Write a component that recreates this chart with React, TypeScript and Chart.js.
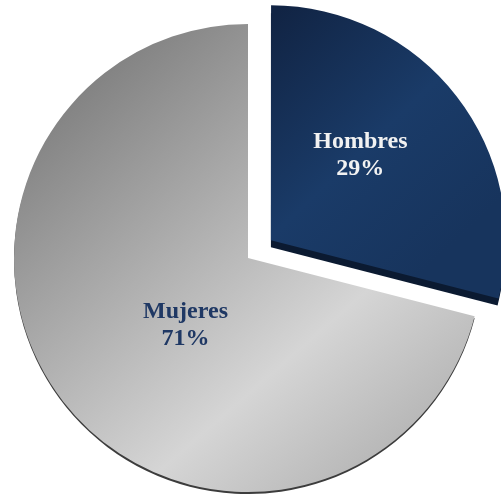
import React, { useEffect, useRef } from "react";
import { Chart, registerables } from "chart.js";

Chart.register(...registerables);

const categories = ["Hombres", "Mujeres"];
const values = [29, 71];
const percentLabels = ["29%", "71%"];

const W = 501;
const H = 494;
const RADIUS = 234;
const OFFSETS = [116, 0];
const DEPTHS = [7, 2];
const DEPTH_COLORS = ["#0b1a31", "#3c3c3c"];
const TEXT_COLORS = ["#f2f2f2", "#1f3864"];
const NUDGES = [
  [-3, -21],
  [30, -12],
];

function arcGeom(arc: any) {
  const p = arc.getProps(["x", "y", "startAngle", "endAngle", "outerRadius"], true);
  const off = (arc.options.offset || 0) / 4;
  const mid = (p.startAngle + p.endAngle) / 2;
  return {
    cx: p.x + Math.cos(mid) * off,
    cy: p.y + Math.sin(mid) * off,
    r: p.outerRadius,
    start: p.startAngle,
    end: p.endAngle,
    mid,
  };
}

const depthPlugin = {
  id: "depth",
  beforeDatasetsDraw(chart: any) {
    const ctx = chart.ctx;
    const meta = chart.getDatasetMeta(0);
    meta.data.forEach((arc: any, i: number) => {
      const g = arcGeom(arc);
      const cy = g.cy + DEPTHS[i];
      ctx.save();
      ctx.beginPath();
      ctx.moveTo(g.cx, cy);
      ctx.arc(g.cx, cy, g.r, g.start, g.end);
      ctx.closePath();
      ctx.fillStyle = DEPTH_COLORS[i];
      ctx.fill();
      ctx.restore();
    });
  },
};

const labelPlugin = {
  id: "sliceLabels",
  afterDatasetsDraw(chart: any) {
    const ctx = chart.ctx;
    const meta = chart.getDatasetMeta(0);
    meta.data.forEach((arc: any, i: number) => {
      const g = arcGeom(arc);
      const x = g.cx + Math.cos(g.mid) * g.r * 0.5 + NUDGES[i][0];
      const y = g.cy + Math.sin(g.mid) * g.r * 0.5 + NUDGES[i][1];
      ctx.save();
      ctx.font = "bold 24px 'Liberation Serif'";
      ctx.textAlign = "center";
      ctx.textBaseline = "alphabetic";
      ctx.fillStyle = TEXT_COLORS[i];
      ctx.fillText(categories[i], x, y);
      ctx.fillText(percentLabels[i], x, y + 27);
      ctx.restore();
    });
  },
};

function sliceFill(context: any) {
  const chart = context.chart;
  const area = chart.chartArea;
  const i = context.dataIndex;
  if (!area) return i === 0 ? "#173560" : "#aaaaaa";
  const ctx = chart.ctx;
  const cx = (area.left + area.right) / 2;
  const cy = (area.top + area.bottom) / 2;
  const r = RADIUS;
  if (i === 0) {
    const g = ctx.createLinearGradient(cx + 0.05 * r, cy - 1.0 * r, cx + 0.9 * r, cy - 0.1 * r);
    g.addColorStop(0, "#112444");
    g.addColorStop(0.55, "#1a3b68");
    g.addColorStop(1, "#17345d");
    return g;
  }
  const g = ctx.createLinearGradient(cx - 0.8 * r, cy - 0.92 * r, cx + 0.8 * r, cy + 0.92 * r);
  g.addColorStop(0, "#777777");
  g.addColorStop(0.68, "#d5d5d5");
  g.addColorStop(1, "#adadad");
  return g;
}

export default function App() {
  const ref = useRef<HTMLCanvasElement | null>(null);
  useEffect(() => {
    if (!ref.current) return;
    const chart = new Chart(ref.current, {
      type: "pie",
      data: {
        labels: categories,
        datasets: [
          {
            data: values,
            backgroundColor: sliceFill as any,
            borderWidth: 0,
            offset: OFFSETS,
          },
        ],
      },
      options: {
        responsive: false,
        animation: false,
        radius: RADIUS,
        layout: { padding: { left: 0, right: 5, top: 22, bottom: 0 } },
        plugins: {
          legend: { display: false },
          tooltip: { enabled: false },
        },
        events: [],
      } as any,
      plugins: [depthPlugin, labelPlugin],
    });
    return () => chart.destroy();
  }, []);
  return (
    <canvas
      ref={ref}
      width={W}
      height={H}
      style={{ position: "absolute", left: 0, top: 0, width: W, height: H, display: "block" }}
    />
  );
}
